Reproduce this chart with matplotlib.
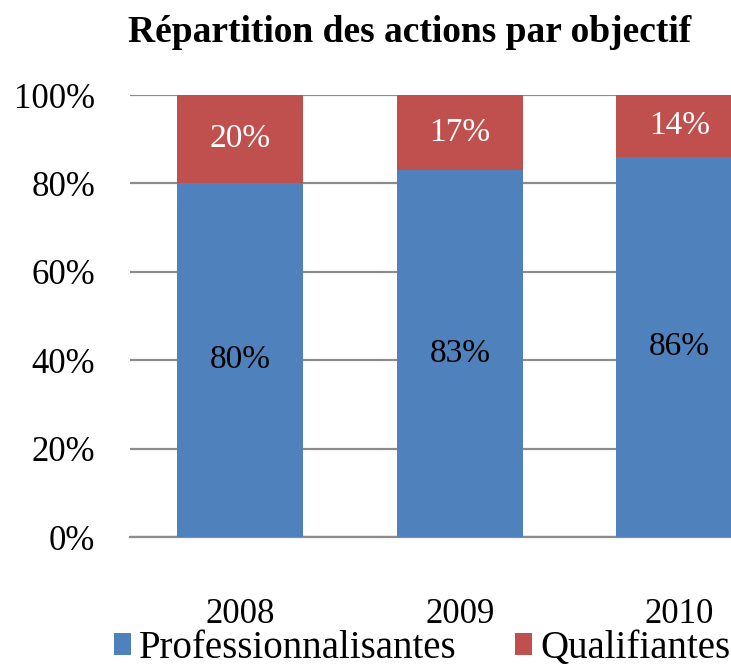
import matplotlib.pyplot as plt
import numpy as np

years = ["2008", "2009", "2010"]
pro = [80, 83, 86]
qual = [20, 17, 14]
pro_labels = ["80%", "83%", "86%"]
qual_labels = ["20%", "17%", "14%"]

blue = "#4F81BD"
red = "#C0504D"

plt.rcParams['font.family'] = ['Liberation Serif', 'DejaVu Serif']

fig = plt.figure(figsize=(7.31, 6.7), dpi=100)
# axes runs past the right edge, like the cropped original
ax = fig.add_axes([130/731, 133/670, 659.5/731, 442/670])

x = np.arange(len(years))
ax.bar(x, pro, width=0.574, color=blue, label="Professionnalisantes", zorder=3)
ax.bar(x, qual, width=0.574, bottom=pro, color=red, label="Qualifiantes", zorder=3)

for i in range(len(years)):
    ax.text(x[i], pro[i] / 2, pro_labels[i], ha="center", va="center",
            fontsize=24, color="black", zorder=4)
    ax.text(x[i], pro[i] + qual[i] / 2, qual_labels[i], ha="center", va="center",
            fontsize=24, color="white", zorder=4)

ax.set_xlim(-0.5, 2.5)
ax.set_ylim(0, 100)
ax.set_yticks(np.arange(0, 101, 20))
ax.set_yticklabels([f"{v}%" for v in range(0, 101, 20)])
ax.set_xticks(x)
ax.set_xticklabels(years)
ax.yaxis.grid(True, color="#8C8C8C", linewidth=1.6, zorder=0)
for s in ["top", "right", "left"]:
    ax.spines[s].set_visible(False)
ax.spines["bottom"].set_color("#8C8C8C")
ax.spines["bottom"].set_linewidth(1.6)
ax.tick_params(axis="y", length=0, labelsize=25, pad=25)
ax.tick_params(axis="x", length=0, labelsize=25, pad=44)

fig.text(410/731, 1 - 32/670, "Répartition des actions par objectif",
         ha="center", va="center", fontsize=27, fontweight="bold")

fig.legend(loc="center", bbox_to_anchor=(422/731, 1 - 648/670), ncol=2,
           frameon=False, fontsize=28, handlelength=0.45, handleheight=0.5,
           handletextpad=0.2, columnspacing=1.5, borderaxespad=0)

fig.savefig("out.png", dpi=100)
